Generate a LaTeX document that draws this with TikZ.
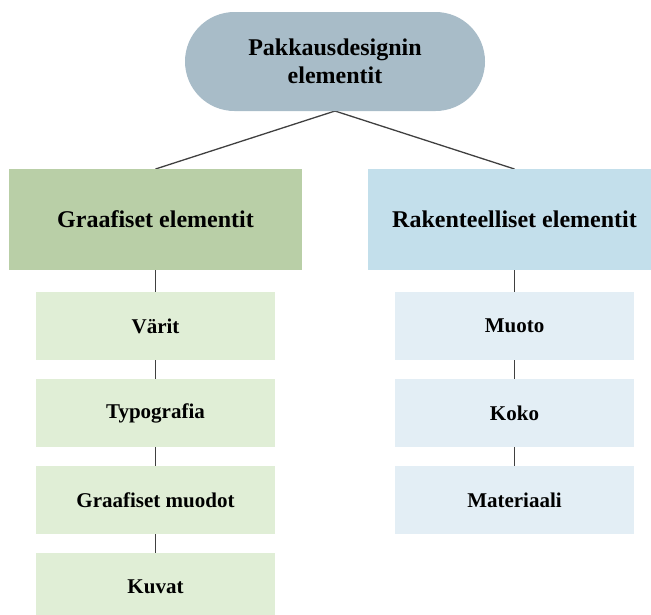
\documentclass[tikz,border=0pt]{standalone}
\usepackage{fontspec}
\setmainfont{Liberation Serif}
\begin{document}
\begin{tikzpicture}[x=1pt,y=-1pt,
  base/.style={draw=none,inner sep=0pt,align=center,font=\bfseries},
  rootbox/.style={base,fill=rootblue,minimum width=300pt,minimum height=99pt,rounded corners=49.5pt,font=\fontsize{24}{28}\selectfont\bfseries},
  groupbox/.style={base,minimum width=293pt,minimum height=101pt,font=\fontsize{24}{28}\selectfont\bfseries},
  itembox/.style={base,minimum width=239pt,minimum height=68pt,font=\fontsize{21}{25}\selectfont\bfseries},
  link/.style={draw=linkgray,line width=1.3pt}]
\definecolor{rootblue}{HTML}{A8BCC8}
\definecolor{greenbig}{HTML}{B9CFA7}
\definecolor{bluebig}{HTML}{C3DFEB}
\definecolor{greensmall}{HTML}{E0EED6}
\definecolor{bluesmall}{HTML}{E3EEF5}
\definecolor{linkgray}{HTML}{404040}
\useasboundingbox (0,0) rectangle (651,614);

% connectors (drawn first, beneath the boxes)
\coordinate (rootS) at (335,111);
\coordinate (gTop) at (155.5,169);
\coordinate (rTop) at (514.5,169);
\draw[link] (rootS) -- (gTop);
\draw[link] (rootS) -- (rTop);
\draw[link] (155.5,270) -- (155.5,587);
\draw[link] (514.5,270) -- (514.5,500);

% root
\node[rootbox] (root) at (335,61.5) {Pakkausdesignin\\elementit};

% group boxes
\node[groupbox,fill=greenbig] (graf) at (155.5,219.5) {Graafiset elementit};
\node[groupbox,fill=bluebig] (rak) at (514.5,219.5) {Rakenteelliset elementit};

% left column
\node[itembox,fill=greensmall] (varit) at (155.5,326) {Värit};
\node[itembox,fill=greensmall] (typo) at (155.5,413) {Typografia};
\node[itembox,fill=greensmall] (gmuod) at (155.5,500) {Graafiset muodot};
\node[itembox,fill=greensmall] (kuvat) at (155.5,587) {Kuvat};

% right column
\node[itembox,fill=bluesmall] (muoto) at (514.5,326) {Muoto};
\node[itembox,fill=bluesmall] (koko) at (514.5,413) {Koko};
\node[itembox,fill=bluesmall] (mat) at (514.5,500) {Materiaali};
\end{tikzpicture}
\end{document}
